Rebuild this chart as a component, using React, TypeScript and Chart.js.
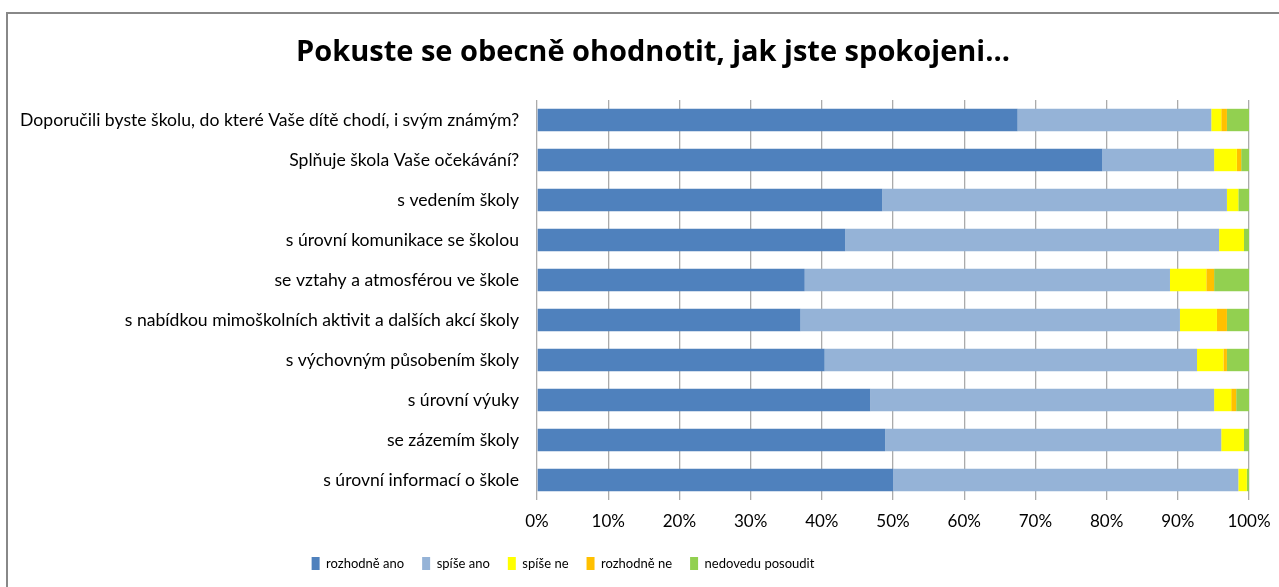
import React, { useEffect, useRef } from "react";
import { Chart, registerables } from "chart.js";

Chart.register(...registerables);

const TITLE = "Pokuste se obecně ohodnotit, jak jste spokojeni...";

const categories = [
  "Doporučili byste školu, do které Vaše dítě chodí, i svým známým?",
  "Splňuje škola Vaše očekávání?",
  "s vedením školy",
  "s úrovní komunikace se školou",
  "se vztahy a atmosférou ve škole",
  "s nabídkou mimoškolních aktivit a dalších akcí školy",
  "s výchovným působením školy",
  "s úrovní výuky",
  "se zázemím školy",
  "s úrovní informací o škole",
];

const seriesNames = ["rozhodně ano", "spíše ano", "spíše ne", "rozhodně ne", "nedovedu posoudit"];

const rozhodneAno = [67.5, 79.4, 48.5, 43.3, 37.6, 37.0, 40.4, 46.8, 48.9, 50.0];
const spiseAno = [27.2, 15.7, 48.4, 52.5, 51.3, 53.3, 52.3, 48.3, 47.2, 48.5];
const spiseNe = [1.4, 3.2, 1.6, 3.5, 5.1, 5.2, 3.7, 2.4, 3.2, 1.2];
const rozhodneNe = [0.8, 0.6, 0, 0, 1.1, 1.4, 0.5, 0.7, 0, 0];
const nedovedu = [3.1, 1.1, 1.5, 0.7, 4.9, 3.1, 3.1, 1.8, 0.7, 0.3];

const xTicks = [0, 10, 20, 30, 40, 50, 60, 70, 80, 90, 100];

const colors = ["#4F81BD", "#95B3D7", "#FFFF00", "#FFC000", "#92D050"];

const OFFSET = 123;
const CANVAS_W = 1279 + OFFSET;
const CANVAS_H = 600;
const FONT = "Lato";

const titlePlugin = {
  id: "customTitle",
  afterDraw(chart: any) {
    const ctx = chart.ctx;
    ctx.save();
    ctx.font = "bold 29px 'Open Sans'";
    ctx.fillStyle = "#000";
    ctx.textAlign = "center";
    ctx.textBaseline = "alphabetic";
    ctx.fillText(TITLE, 653 + OFFSET, 61);
    ctx.restore();
  },
};

export default function App() {
  const ref = useRef<HTMLCanvasElement | null>(null);

  useEffect(() => {
    if (!ref.current) return;
    const seriesData = [rozhodneAno, spiseAno, spiseNe, rozhodneNe, nedovedu];
    const chart = new Chart(ref.current, {
      type: "bar",
      data: {
        labels: categories,
        datasets: seriesNames.map((name, i) => ({
          label: name,
          data: seriesData[i],
          backgroundColor: colors[i],
          borderWidth: 0,
          barPercentage: 0.56,
          categoryPercentage: 1,
        })),
      },
      options: {
        indexAxis: "y",
        responsive: false,
        animation: false,
        layout: { padding: { left: 0, right: 30, top: 100, bottom: 20 } },
        plugins: {
          title: { display: false },
          tooltip: { enabled: false },
          legend: {
            position: "bottom",
            labels: {
              boxWidth: 8,
              boxHeight: 13,
              padding: 18,
              color: "#000",
              font: { family: FONT, size: 13 },
            },
          },
        },
        scales: {
          x: {
            stacked: true,
            min: 0,
            max: 100,
            afterBuildTicks: (scale: any) => {
              scale.ticks = xTicks.map((v) => ({ value: v }));
            },
            afterFit: (scale: any) => {
              scale.height = 39;
              scale.paddingLeft = 0;
              scale.paddingRight = 0;
            },
            ticks: {
              padding: 11,
              color: "#000",
              font: { family: FONT, size: 17 },
              callback: (v: any) => v + "%",
            },
            grid: { color: "#ababab", lineWidth: 1.3, drawTicks: false },
            border: { display: false },
          },
          y: {
            stacked: true,
            afterFit: (scale: any) => {
              scale.width = 537 + OFFSET;
            },
            ticks: {
              padding: 18,
              color: "#000",
              font: { family: FONT, size: 17.6 },
            },
            grid: { display: false, drawTicks: false },
            border: { display: false },
          },
        },
      },
      plugins: [titlePlugin],
    });
    return () => chart.destroy();
  }, []);

  return (
    <div
      style={{
        position: "fixed",
        left: 0,
        top: 0,
        width: 1279,
        height: 587,
        overflow: "hidden",
        background: "#fff",
      }}
    >
      <div
        style={{
          position: "absolute",
          left: 6,
          top: 12,
          width: 3000,
          height: 3000,
          borderTop: "2px solid #888888",
          borderLeft: "2px solid #888888",
        }}
      />
      <canvas
        ref={ref}
        width={CANVAS_W}
        height={CANVAS_H}
        style={{ position: "absolute", left: -OFFSET, top: 0, width: CANVAS_W, height: CANVAS_H }}
      />
    </div>
  );
}
